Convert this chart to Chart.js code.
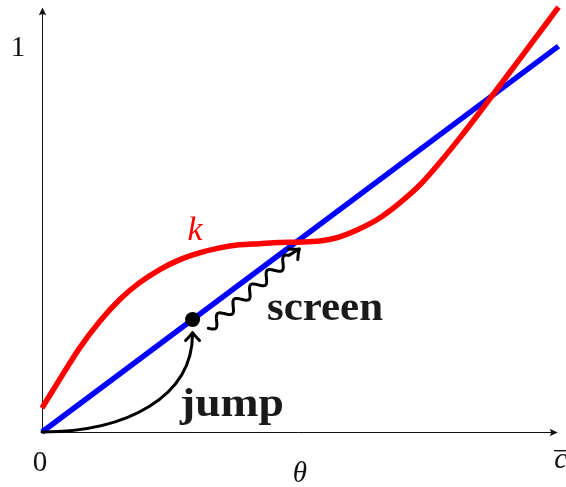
<!DOCTYPE html>
<html>
<head>
<meta charset="utf-8">
<script src="https://cdn.jsdelivr.net/npm/chart.js@4"></script>
<style>
  html, body { margin: 0; padding: 0; background: #ffffff; }
  #wrap { width: 566px; height: 487px; }
</style>
</head>
<body>
<div id="wrap"><canvas id="c" width="566" height="487"></canvas></div>
<script>
// ---- data ----
const kX = [0, 0.035, 0.073, 0.112, 0.151, 0.189, 0.228, 0.266, 0.305, 0.344, 0.382, 0.421, 0.459, 0.498, 0.537, 0.575, 0.614, 0.653, 0.691, 0.730, 0.768, 0.807, 0.846, 0.878, 0.909, 0.942, 0.975, 1.0];
const kY = [0.062, 0.138, 0.218, 0.287, 0.344, 0.387, 0.421, 0.446, 0.464, 0.477, 0.485, 0.488, 0.491, 0.492, 0.495, 0.505, 0.526, 0.554, 0.592, 0.638, 0.695, 0.759, 0.826, 0.883, 0.938, 0.997, 1.056, 1.101];
const diagX = [0, 1];
const diagY = [0, 1];
const dotX = [0.2915];
const dotY = [0.2915];
const xTickValues = [0, 1.004];
const xTickLabels = ['0', 'c'];
const yTickValues = [1];
const yTickLabels = ['1'];
const xTitle = 'θ';
const curveLabel = 'k';
const jumpLabel = 'jump';
const screenLabel = 'screen';

const toPts = (xs, ys) => xs.map((x, i) => ({ x: x, y: ys[i] }));

function arrowHead(ctx, tx, ty, ang, len, half) {
  ctx.save();
  ctx.translate(tx, ty);
  ctx.rotate(ang);
  ctx.beginPath();
  ctx.moveTo(-len, -half);
  ctx.quadraticCurveTo(-len * 0.35, -half * 0.25, 0, 0);
  ctx.quadraticCurveTo(-len * 0.35, half * 0.25, -len, half);
  ctx.stroke();
  ctx.restore();
}

function filledHead(ctx, tx, ty, ang, len, half) {
  ctx.save();
  ctx.translate(tx, ty);
  ctx.rotate(ang);
  ctx.beginPath();
  ctx.moveTo(0, 0);
  ctx.lineTo(-len, -half);
  ctx.quadraticCurveTo(-len * 0.7, 0, -len, half);
  ctx.closePath();
  ctx.fill();
  ctx.restore();
}

function drawScaledText(ctx, text, x, y, font, targetW) {
  ctx.save();
  ctx.font = font;
  const w = ctx.measureText(text).width;
  const sx = targetW ? targetW / w : 1;
  ctx.translate(x, y);
  ctx.scale(sx, 1);
  ctx.textAlign = 'left';
  ctx.textBaseline = 'alphabetic';
  ctx.fillText(text, 0, 0);
  ctx.restore();
}

const decor = {
  id: 'decor',
  beforeDatasetsDraw(chart) {
    const ctx = chart.ctx;
    const xs = chart.scales.x, ys = chart.scales.y;
    const ox = Math.round(xs.getPixelForValue(0)) + 0.5;
    const oy = Math.round(ys.getPixelForValue(0)) + 0.5;
    const xEnd = xs.getPixelForValue(0.9985);
    const yEnd = chart.chartArea.top;
    ctx.save();
    ctx.strokeStyle = '#111';
    ctx.fillStyle = '#111';
    ctx.lineWidth = 1;
    ctx.beginPath();
    ctx.moveTo(ox, oy); ctx.lineTo(xEnd - 3, oy);
    ctx.moveTo(ox, oy); ctx.lineTo(ox, yEnd + 3);
    ctx.stroke();
    filledHead(ctx, xEnd, oy, 0, 8, 3.8);
    filledHead(ctx, ox, yEnd, -Math.PI / 2, 8, 3.8);

    ctx.font = '29px "Liberation Serif"';
    ctx.textAlign = 'center';
    ctx.textBaseline = 'alphabetic';
    xTickValues.forEach((v, i) => {
      const px = xs.getPixelForValue(v);
      if (xTickLabels[i] === 'c') {
        ctx.font = 'italic 29px "Liberation Serif"';
        ctx.fillText(xTickLabels[i], px, 468);
        ctx.fillRect(px - 6.5, 450, 13, 1.4);
        ctx.font = '29px "Liberation Serif"';
      } else {
        ctx.fillText(xTickLabels[i], px - 2, 471);
      }
    });
    yTickValues.forEach((v, i) => {
      const py = ys.getPixelForValue(v);
      ctx.fillText(yTickLabels[i], 18, py + 10);
    });
    ctx.font = 'italic 29px "Liberation Serif"';
    ctx.fillText(xTitle, (xs.getPixelForValue(0) + xEnd) / 2, 482);
    ctx.restore();
  },
  afterDatasetsDraw(chart) {
    const ctx = chart.ctx;
    const xs = chart.scales.x, ys = chart.scales.y;
    const X = v => xs.getPixelForValue(v), Y = v => ys.getPixelForValue(v);
    ctx.save();
    ctx.strokeStyle = '#000';
    ctx.fillStyle = '#000';
    ctx.lineWidth = 3;
    ctx.lineCap = 'round';
    ctx.lineJoin = 'round';

    // jump arrow
    const p0x = X(0), p0y = Y(0);
    const tipx = X(dotX[0]), tipy = Y(dotY[0]) + 13;
    ctx.beginPath();
    ctx.moveTo(p0x, p0y);
    ctx.bezierCurveTo(p0x + 85, p0y, tipx, p0y - 35, tipx, tipy + 1);
    ctx.stroke();
    arrowHead(ctx, tipx, tipy, -Math.PI / 2, 8, 7);

    // wavy "screen" arrow
    const sx = X(0.322), sy = Y(0.269);
    const ex = X(0.498), ey = Y(0.474);
    const dx = ex - sx, dy = ey - sy;
    const L = Math.hypot(dx, dy);
    const ux = dx / L, uy = dy / L;
    const nx = -uy, ny = ux;
    const wl = L - 12;
    const P = 22, A = 5;
    ctx.lineWidth = 3;
    ctx.beginPath();
    for (let s = 0; s <= wl; s += 0.5) {
      const off = A * Math.sin(2 * Math.PI * s / P);
      const x = sx + ux * s + nx * off;
      const y = sy + uy * s + ny * off;
      if (s === 0) ctx.moveTo(x, y); else ctx.lineTo(x, y);
    }
    ctx.lineTo(ex, ey);
    ctx.stroke();
    arrowHead(ctx, ex, ey, Math.atan2(dy, dx), 8, 7);

    // labels
    ctx.fillStyle = '#1a1a1a';
    drawScaledText(ctx, screenLabel, 267, 320, 'bold 40px "Liberation Serif"', 116);
    drawScaledText(ctx, jumpLabel, 180, 416, 'bold 40px "Liberation Serif"', 104);
    ctx.fillStyle = '#ff0000';
    ctx.font = 'italic 34px "Liberation Serif"';
    ctx.textAlign = 'center';
    ctx.fillText(curveLabel, 195, 240);
    ctx.restore();
  }
};

new Chart(document.getElementById('c'), {
  type: 'line',
  data: {
    datasets: [
      {
        label: 'dot', type: 'scatter', data: toPts(dotX, dotY),
        pointRadius: 7.5, pointBackgroundColor: '#000', pointBorderWidth: 0,
        showLine: false, order: 0, clip: false
      },
      {
        label: 'k', data: toPts(kX, kY), borderColor: '#ff0000', borderWidth: 5.5,
        pointRadius: 0, cubicInterpolationMode: 'monotone', fill: false, order: 1, clip: false
      },
      {
        label: 'diag', data: toPts(diagX, diagY), borderColor: '#0000ff', borderWidth: 5.5,
        pointRadius: 0, tension: 0, fill: false, order: 2, clip: false
      }
    ]
  },
  options: {
    responsive: false,
    animation: false,
    events: [],
    layout: { padding: { left: 42, right: 6, top: 3, bottom: 55 } },
    plugins: { legend: { display: false }, tooltip: { enabled: false } },
    scales: {
      x: { type: 'linear', min: 0, max: 1, display: false },
      y: { type: 'linear', min: 0, max: 1.1, display: false }
    }
  },
  plugins: [decor]
});
</script>
</body>
</html>
